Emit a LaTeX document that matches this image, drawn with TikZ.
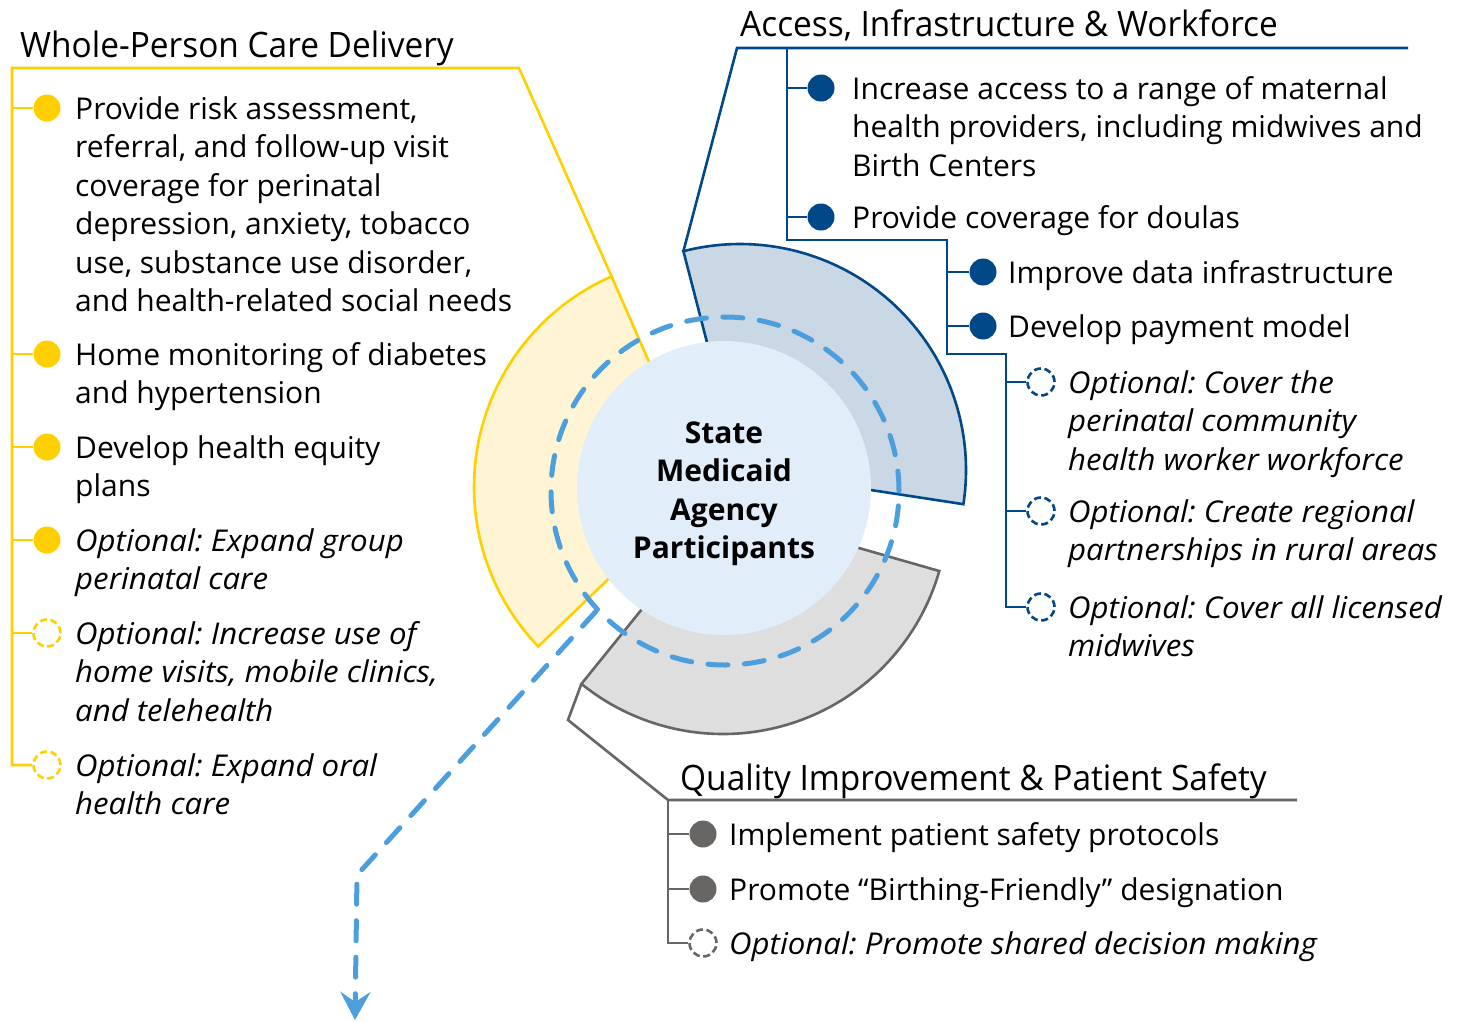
\documentclass[tikz,border=0pt]{standalone}
\usepackage{fontspec}
\setmainfont{Open Sans}[ItalicFeatures={FakeStretch=1.04}]
\newfontfamily\headfont{Open Sans}[FakeStretch=0.955]
\usetikzlibrary{arrows.meta}
\definecolor{ylw}{RGB}{255,207,0}
\definecolor{ylwfill}{RGB}{255,245,212}
\definecolor{dblue}{RGB}{0,72,135}
\definecolor{bluefill}{RGB}{201,216,228}
\definecolor{gline}{RGB}{104,101,101}
\definecolor{gfill}{RGB}{222,222,222}
\definecolor{cfill}{RGB}{225,237,249}
\definecolor{dashblue}{RGB}{77,158,221}
\frenchspacing
\begin{document}
\begin{tikzpicture}[x=1pt,y=-1pt,
  txt/.style={anchor=north west, inner sep=0pt, align=left, font=\fontsize{30}{38.5}\selectfont},
  itxt/.style={txt, font=\fontsize{30}{38.5}\selectfont\itshape},
  head/.style={anchor=base west, inner sep=0pt, font=\headfont\fontsize{35}{42}\selectfont},
  ctr/.style={anchor=north, inner sep=0pt, align=center, font=\fontsize{30}{38.5}\selectfont\bfseries},
  dotbase/.style={circle, inner sep=0pt, minimum size=27pt},
  optbase/.style={circle, inner sep=0pt, minimum size=27pt, line width=2.6pt, dash pattern=on 7pt off 3.6pt},
  ydot/.style={dotbase, fill=ylw}, yopt/.style={optbase, draw=ylw},
  bdot/.style={dotbase, fill=dblue}, bopt/.style={optbase, draw=dblue},
  gdot/.style={dotbase, fill=gline}, gopt/.style={optbase, draw=gline},
  ycon/.style={draw=ylw, line width=2.6pt},
  bcon/.style={draw=dblue, line width=2.6pt},
  gcon/.style={draw=gline, line width=2.6pt},
  seg/.style={line width=2.6pt, line join=miter},
]
\useasboundingbox (0,0) rectangle (1459,1021);

% ---- ring segments ----
\filldraw[seg, fill=ylwfill, draw=ylw]
  ([shift={(704,487)}]-113.7:230) arc[start angle=-113.7, end angle=-223.9, radius=230]
  -- ([shift={(704,487)}]-223.9:118) arc[start angle=-223.9, end angle=-113.7, radius=118] -- cycle;
\filldraw[seg, fill=bluefill, draw=dblue]
  ([shift={(740,470)}]8.7:226) arc[start angle=8.7, end angle=-104.5, radius=226]
  -- ([shift={(740,470)}]-104.5:118) arc[start angle=-104.5, end angle=8.7, radius=118] -- cycle;
\filldraw[seg, fill=gfill, draw=gline]
  ([shift={(723,509)}]-231:225) arc[start angle=-231, end angle=-344, radius=225]
  -- ([shift={(723,509)}]-344:118) arc[start angle=-344, end angle=-231, radius=118] -- cycle;

\coordinate (ycorner) at ([shift={(704,487)}]-113.7:230);
\coordinate (bcorner) at ([shift={(740,470)}]-104.5:226);
\coordinate (gcorner) at ([shift={(723,509)}]-231:225);

% ---- hub ----
\node[circle, fill=cfill, minimum size=294pt, inner sep=0pt] (hub) at (724,488) {};
\node[circle, draw=dashblue, line width=5pt, dash pattern=on 20pt off 16.5pt, line cap=round,
      minimum size=348pt, inner sep=0pt] (ring) at (725,491) {};
\coordinate (bend) at (357,875);
\coordinate (tip) at (355,1020);
\draw[dashblue, line width=5pt, dash pattern=on 20pt off 16.5pt, line cap=round,
      -{Stealth[length=28pt, width=30pt, inset=10pt]}] (ring.223) -- (bend) -- (tip);
\node[ctr] (hubtext) at (724,416) {\strut State\\Medicaid\\Agency\\Participants};

% ---- Whole-Person Care Delivery (yellow) ----
\node[head] (yhead) at (20,57) {Whole-Person Care Delivery};
\coordinate (ybend) at (519,68);
\coordinate (ytop) at (12,68);
\node[ydot] (yd1) at (47,108) {};
\node[ydot] (yd2) at (47,354) {};
\node[ydot] (yd3) at (47,447) {};
\node[ydot] (yd4) at (47,540) {};
\node[yopt] (yo1) at (47,633) {};
\node[yopt] (yo2) at (47,765) {};
\draw[ycon] (ycorner) -- (ybend) -- (ytop) -- (ytop |- yo2.west) -- (yo2.west);
\foreach \n in {yd1,yd2,yd3,yd4,yo1} \draw[ycon] (\n.west) -- (\n.west -| ytop);
\node[txt] (yt1) at (75,92) {\strut Provide risk assessment,\\referral, and follow-up visit\\coverage for perinatal\\depression, anxiety, tobacco\\use, substance use disorder,\\and health-related social needs};
\node[txt] (yt2) at (75,338) {\strut Home monitoring of diabetes\\and hypertension};
\node[txt] (yt3) at (75,431) {\strut Develop health equity\\plans};
\node[itxt] (yt4) at (75,524) {\strut Optional: Expand group\\perinatal care};
\node[itxt] (yt5) at (75,617) {\strut Optional: Increase use of\\home visits, mobile clinics,\\and telehealth};
\node[itxt] (yt6) at (75,749) {\strut Optional: Expand oral\\health care};

% ---- Access, Infrastructure & Workforce (blue) ----
\node[head] (bhead) at (740,36) {Access, Infrastructure \& Workforce};
\coordinate (bbend) at (737,48);
\coordinate (bend2) at (1408,48);
\coordinate (b1top) at (787,48);
\coordinate (bj1) at (947,240);
\coordinate (bj2) at (1006,354);
\node[bdot] (bd1) at (821,88) {};
\node[bdot] (bd2) at (821,217) {};
\node[bdot] (bd3) at (983,272) {};
\node[bdot] (bd4) at (983,326) {};
\node[bopt] (bo1) at (1041,382) {};
\node[bopt] (bo2) at (1041,511) {};
\node[bopt] (bo3) at (1041,607) {};
\draw[bcon] (bcorner) -- (bbend) -- (bend2);
\draw[bcon] (b1top) -- (b1top |- bj1) -- (bj1) -- (bj1 |- bj2) -- (bj2) -- (bj2 |- bo3.west) -- (bo3.west);
\foreach \n in {bd1,bd2} \draw[bcon] (\n.west) -- (\n.west -| b1top);
\foreach \n in {bd3,bd4} \draw[bcon] (\n.west) -- (\n.west -| bj1);
\foreach \n in {bo1,bo2} \draw[bcon] (\n.west) -- (\n.west -| bj2);
\node[txt] (bt1) at (852,72) {\strut Increase access to a range of maternal\\health providers, including midwives and\\Birth Centers};
\node[txt] (bt2) at (852,201) {\strut Provide coverage for doulas};
\node[txt] (bt3) at (1008,256) {\strut Improve data infrastructure};
\node[txt] (bt4) at (1008,310) {\strut Develop payment model};
\node[itxt] (bt5) at (1068,366) {\strut Optional: Cover the\\perinatal community\\health worker workforce};
\node[itxt] (bt6) at (1068,495) {\strut Optional: Create regional\\partnerships in rural areas};
\node[itxt] (bt7) at (1068,591) {\strut Optional: Cover all licensed\\midwives};

% ---- Quality Improvement & Patient Safety (gray) ----
\node[head] (ghead) at (680,790) {Quality Improvement \& Patient Safety};
\coordinate (gb1) at (568,720);
\coordinate (gtop) at (668,800);
\coordinate (gend) at (1297,800);
\node[gdot] (gd1) at (703,834) {};
\node[gdot] (gd2) at (703,889) {};
\node[gopt] (go1) at (703,943) {};
\draw[gcon] (gcorner) -- (gb1) -- (gtop) -- (gend);
\draw[gcon] (gtop) -- (gtop |- go1.west) -- (go1.west);
\foreach \n in {gd1,gd2} \draw[gcon] (\n.west) -- (\n.west -| gtop);
\node[txt] (gt1) at (729,818) {\strut Implement patient safety protocols};
\node[txt] (gt2) at (729,873) {\strut Promote “Birthing-Friendly” designation};
\node[itxt] (gt3) at (729,927) {\strut Optional: Promote shared decision making};
\end{tikzpicture}
\end{document}
